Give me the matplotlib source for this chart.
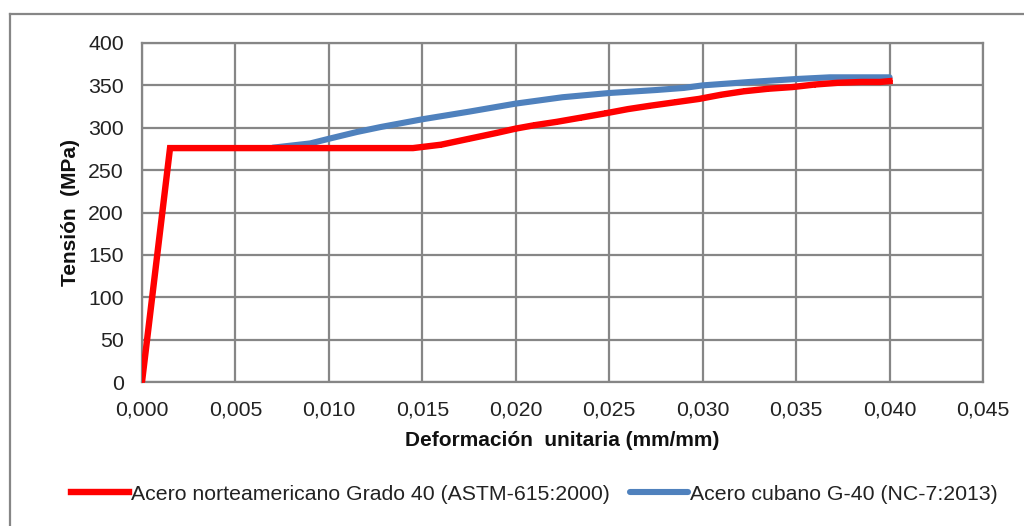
import matplotlib
matplotlib.use("Agg")
import matplotlib.pyplot as plt
from matplotlib.lines import Line2D

plt.rcParams['font.family'] = ['Liberation Sans', 'DejaVu Sans']

# Stress-strain data
strain_astm = [0.0, 0.0015, 0.0035, 0.0070, 0.0090, 0.0110, 0.0128, 0.0145, 0.0160,
               0.0175, 0.0190, 0.0200, 0.0210, 0.0222, 0.0235, 0.0248, 0.0260, 0.0272,
               0.0285, 0.0298, 0.0310, 0.0322, 0.0335, 0.0348, 0.0360, 0.0372, 0.0385,
               0.0395, 0.0400]
stress_astm = [0, 276, 276, 276, 276, 276, 276, 276, 280,
               287, 294, 299, 303, 307, 312, 317, 322, 326,
               330, 334, 339, 343, 346, 348, 351, 353, 354,
               354, 355]

strain_nc = [0.0070, 0.0090, 0.0100, 0.0115, 0.0128, 0.0150, 0.0175, 0.0200, 0.0225,
             0.0250, 0.0275, 0.0290, 0.0300, 0.0325, 0.0350, 0.0368, 0.0400]
stress_nc = [276.5, 281.5, 287, 295, 301, 310, 319, 328.5, 336,
             341, 344.5, 347, 350, 354, 357.5, 359.5, 359.5]

label_astm = "Acero norteamericano Grado 40 (ASTM-615:2000)"
label_nc = "Acero cubano G-40 (NC-7:2013)"

x_ticks = [0.000, 0.005, 0.010, 0.015, 0.020, 0.025, 0.030, 0.035, 0.040, 0.045]
y_ticks = [0, 50, 100, 150, 200, 250, 300, 350, 400]

grid_color = '#868686'
red = '#FF0000'
blue = '#4F81BD'

fig = plt.figure(figsize=(10.24, 5.26), dpi=100)
ax = fig.add_axes([142/1024, 1 - 382/526, (983 - 142)/1024, (382 - 43)/526])

ax.plot(strain_nc, stress_nc, color=blue, lw=4.4, solid_capstyle='round',
        solid_joinstyle='round', zorder=3)
ax.plot(strain_astm, stress_astm, color=red, lw=4.6, marker='+', ms=5, mew=1.2,
        solid_joinstyle='miter', zorder=4)

ax.set_xlim(0, 0.045)
ax.set_ylim(0, 400)
ax.set_xticks(x_ticks)
ax.set_yticks(y_ticks)
ax.set_xticklabels([f"{v:.3f}".replace('.', ',') for v in x_ticks])
ax.set_yticklabels([str(v) for v in y_ticks])
ax.tick_params(length=0, labelsize=15.3, colors='#222222')
ax.tick_params(axis='x', pad=13)
ax.tick_params(axis='y', pad=13)
ax.grid(True, color=grid_color, lw=1.6)
ax.set_axisbelow(True)
for sp in ax.spines.values():
    sp.set_color(grid_color)
    sp.set_linewidth(1.6)

fig.text(562/1024, 1 - 440/526, "Deformación  unitaria (mm/mm)", ha='center', va='center',
         fontsize=15, fontweight='bold', color='#111111')
fig.text(70/1024, 1 - 212/526, "Tensión  (MPa)", ha='center', va='center', rotation=90,
         fontsize=15, fontweight='bold', color='#111111')

# Chart area frame
fig.add_artist(Line2D([10/1024, 10/1024], [1 - 14/526, 0], color=grid_color, lw=1.6,
                      transform=fig.transFigure))
fig.add_artist(Line2D([10/1024, 1], [1 - 14/526, 1 - 14/526], color=grid_color, lw=1.6,
                      transform=fig.transFigure))

handles = [Line2D([], [], color=red, lw=4.6, marker='+', ms=5, mew=1.2, markevery=[1]),
           Line2D([], [], color=blue, lw=4.4, solid_capstyle='round')]
fig.legend(handles, [label_astm, label_nc], loc='center', bbox_to_anchor=(0.522, 1 - 494/526),
           ncol=2, frameon=False, fontsize=15.3, handlelength=2.7, handletextpad=0.12,
           columnspacing=0.95, labelcolor='#222222')

fig.savefig("out.png", dpi=100, facecolor='white')
